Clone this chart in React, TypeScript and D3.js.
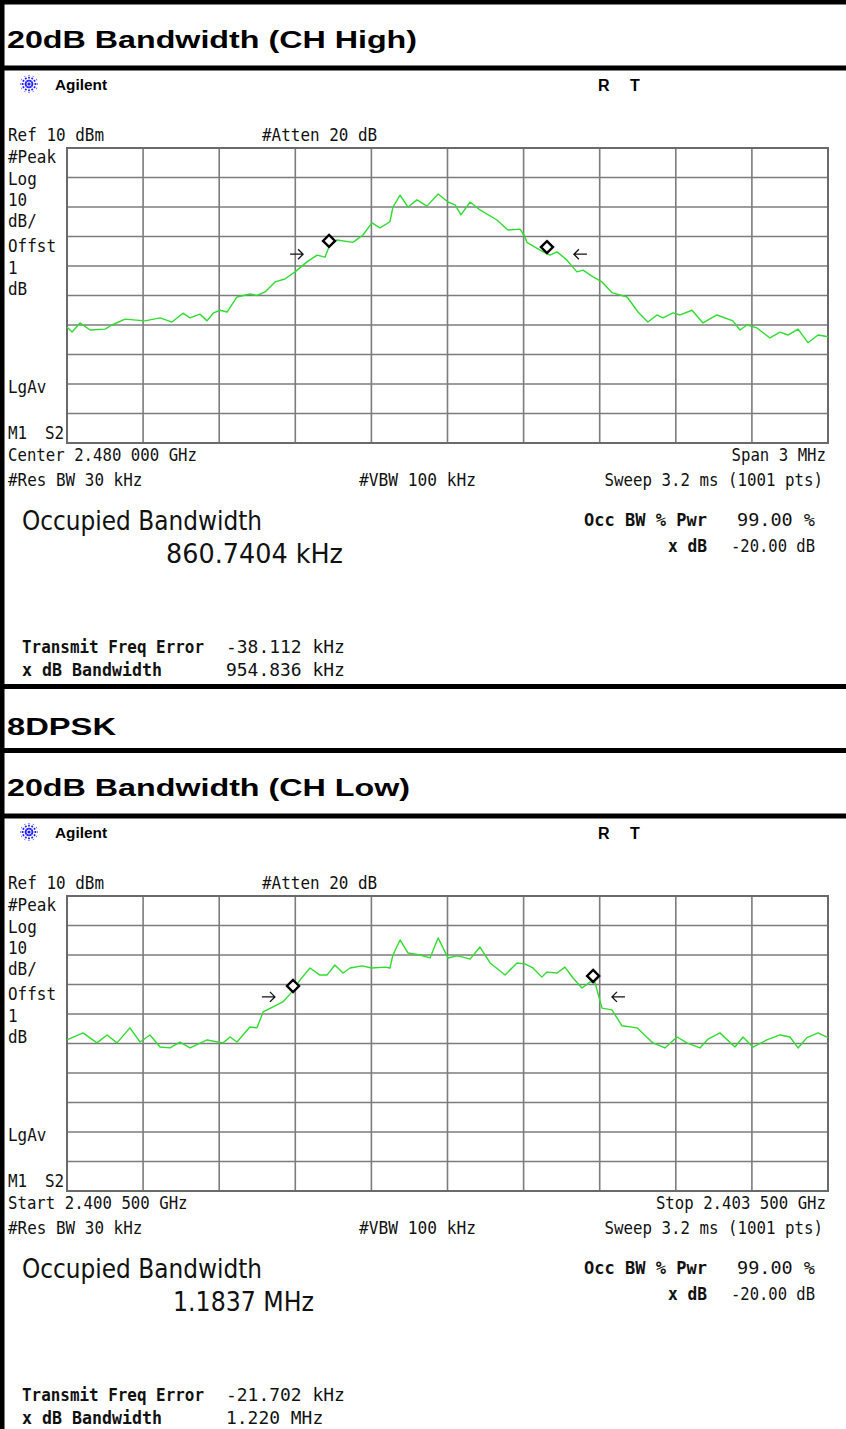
import React from 'react';
import * as d3 from 'd3';

const W = 846;
const H = 1429;
const SPAN = 3; // MHz
const DIVS = 10;

// CH High trace: offset from left edge (MHz), level (dBm)
const hiFreq = [
  0, 0.02, 0.051, 0.091, 0.15, 0.177, 0.229, 0.307, 0.367, 0.414, 0.457, 0.485, 0.524, 0.552, 0.576,
  0.603, 0.631, 0.67, 0.721, 0.749, 0.781, 0.82, 0.859, 0.899, 0.946, 0.986, 1.017, 1.033, 1.064,
  1.127, 1.167, 1.202, 1.234, 1.273, 1.285, 1.313, 1.344, 1.38, 1.419, 1.463, 1.502, 1.53, 1.553,
  1.589, 1.628, 1.695, 1.738, 1.786, 1.805, 1.813, 1.865, 1.904, 1.932, 1.971, 2.01, 2.034, 2.074,
  2.109, 2.148, 2.208, 2.251, 2.29, 2.326, 2.349, 2.389, 2.417, 2.464, 2.507, 2.562, 2.625, 2.653,
  2.681, 2.72, 2.771, 2.811, 2.842, 2.882, 2.921, 2.961, 3.0,
];
const hiLevel = [
  -50.7, -52.4, -49.3, -51.7, -51.4, -50, -48, -48.6, -47.6, -49, -46, -47.6, -46.3, -48.6, -46,
  -45, -45.6, -40.5, -39.5, -40, -38.8, -35.4, -34.4, -32, -28.6, -26.3, -27, -23.5, -21.2,
  -22, -19.5, -15.4, -17.1, -15, -10, -6, -10, -7.6, -9.7, -5.6, -8.3, -9.3, -12.7,
  -8.3, -11, -14.4, -17.8, -17.5, -20, -22, -24.6, -26.3, -25.2, -28, -32, -31.4, -33.7,
  -35.4, -39, -40.5, -45.6, -49, -46.6, -47.6, -45.9, -46.6, -45, -49.3, -46.6, -48.6, -51.7,
  -50, -51, -54.4, -52.4, -53.4, -51.4, -56, -53.4, -54,
];

// CH Low trace
const loFreq = [
  0, 0.063, 0.118, 0.158, 0.197, 0.248, 0.288, 0.327, 0.367, 0.406, 0.445, 0.485, 0.552, 0.615,
  0.643, 0.67, 0.721, 0.749, 0.773, 0.812, 0.851, 0.887, 0.918, 0.958, 0.997, 1.025, 1.056, 1.088,
  1.116, 1.163, 1.202, 1.254, 1.273, 1.285, 1.313, 1.344, 1.392, 1.431, 1.463, 1.502, 1.537, 1.561,
  1.589, 1.628, 1.668, 1.727, 1.774, 1.805, 1.837, 1.872, 1.892, 1.932, 1.963, 1.995, 2.03, 2.062,
  2.081, 2.109, 2.148, 2.188, 2.247, 2.31, 2.357, 2.405, 2.444, 2.495, 2.527, 2.574, 2.633, 2.665,
  2.704, 2.759, 2.811, 2.85, 2.882, 2.917, 2.961, 3.0,
];
const loLevel = [
  -38.8, -36.4, -39.8, -37.1, -39.8, -34.7, -39.5, -37.1, -41.2, -41.5, -39.5, -41.5, -38.8, -39.8,
  -37.8, -39.5, -34.4, -34.7, -29.3, -27.6, -25.9, -22.5, -18.5, -14.4, -16.8, -16.8, -13.4, -16.1,
  -14.4, -13.7, -14.4, -14.1, -14.4, -10, -4.9, -9.3, -10, -11, -4.2, -11, -10.3, -10.7,
  -11.4, -7.3, -12.7, -16.8, -12.7, -13, -14.4, -17.5, -15.8, -16.1, -14.1, -17.8, -21.2, -19.2,
  -19.2, -28, -28.6, -34, -34.7, -39.8, -41.5, -37.8, -39.8, -41.5, -38.5, -36.4, -41.2, -37.8,
  -41.2, -38.8, -37.1, -37.8, -41.5, -38, -36.4, -38,
];

// markers (diamonds) and -20 dB arrows
const hiMarkerFreq = [1.033, 1.892];
const hiMarkerLevel = [-21.5, -23.6];
const hiArrowFreq = [0.907, 2.022];
const hiArrowLevel = -26;
const loMarkerFreq = [0.891, 2.074];
const loMarkerLevel = [-20.5, -17.1];
const loArrowFreq = [0.796, 2.172];
const loArrowLevel = -24.2;

const yTickLevels = d3.range(10, -91, -10);

const MONO = 'DejaVu Sans Mono';

function Mono({ x, y, text, cw = 9.6, size = 17, bold = false, end = false, width }: any) {
  const len = width ?? text.length * cw;
  const x0 = end ? x - len : x;
  return (
    <text
      x={x0}
      y={y}
      fontFamily={MONO}
      fontSize={size}
      fontWeight={bold ? 'bold' : 'normal'}
      textLength={len}
      lengthAdjust="spacingAndGlyphs"
      fill="#111"
    >
      {text}
    </text>
  );
}

function Title({ y, text, width }: any) {
  return (
    <text
      x={7}
      y={y}
      fontFamily="Liberation Sans, Arial, sans-serif"
      fontWeight="bold"
      fontSize={24}
      textLength={width}
      lengthAdjust="spacingAndGlyphs"
      fill="#000"
    >
      {text}
    </text>
  );
}

function Star({ cx, cy }: any) {
  const rays = d3.range(12).map((i) => (i * Math.PI * 2) / 12);
  return (
    <g>
      {rays.map((a, i) => (
        <line
          key={i}
          x1={cx + Math.cos(a) * 2.5}
          y1={cy + Math.sin(a) * 2.5}
          x2={cx + Math.cos(a) * 9}
          y2={cy + Math.sin(a) * 9}
          stroke="#2020ff"
          strokeWidth={1.8}
          strokeDasharray="1.8,1.2"
        />
      ))}
      <circle cx={cx} cy={cy} r={1.6} fill="#2020ff" />
    </g>
  );
}

function Analyzer({ base, freq, level, mFreq, mLevel, aFreq, aLevel, info }: any) {
  const x = d3.scaleLinear().domain([0, SPAN]).range([67, 828]);
  const y = d3.scaleLinear().domain([10, -90]).range([base, base + 295]);
  const xTicks = d3.range(DIVS + 1).map((i) => (i * SPAN) / DIVS);

  const line = d3
    .line<number>()
    .x((d, i) => x(freq[i]))
    .y((d) => y(d));

  const leftLabels = ['#Peak', 'Log', '10', 'dB/', 'Offst', '1', 'dB'];
  const leftY = [15, 37, 58, 79, 104, 126, 147];

  return (
    <g>
      <Star cx={29} cy={base - 64} />
      <text
        x={55}
        y={base - 58}
        fontFamily="Liberation Sans, Arial, sans-serif"
        fontWeight="bold"
        fontSize={14}
        textLength={52}
        lengthAdjust="spacingAndGlyphs"
      >
        Agilent
      </text>
      <text x={598} y={base - 57} fontFamily="Liberation Sans, Arial, sans-serif" fontWeight="bold" fontSize={16}>
        R
      </text>
      <text x={630} y={base - 57} fontFamily="Liberation Sans, Arial, sans-serif" fontWeight="bold" fontSize={16}>
        T
      </text>

      <Mono x={8} y={base - 7} text="Ref 10 dBm" />
      <Mono x={262} y={base - 7} text="#Atten 20 dB" />
      {leftLabels.map((t, i) => (
        <Mono key={i} x={8} y={base + leftY[i]} text={t} />
      ))}
      <Mono x={8} y={base + 245} text="LgAv" />
      <Mono x={8} y={base + 291} text="M1" />
      <Mono x={45} y={base + 291} text="S2" />

      {/* grid */}
      <g stroke="#7c7c7c" strokeWidth={1.6}>
        {xTicks.map((t, i) => (
          <line key={'v' + i} x1={x(t)} x2={x(t)} y1={base} y2={base + 295} />
        ))}
        {yTickLevels.map((t, i) => (
          <line key={'h' + i} x1={67} x2={828} y1={y(t)} y2={y(t)} />
        ))}
      </g>
      <rect x={67} y={base} width={761} height={295} fill="none" stroke="#6a6a6a" strokeWidth={2} />

      <path d={line(level) || ''} fill="none" stroke="#2fdc2f" strokeWidth={1.4} strokeLinejoin="round" />

      {mFreq.map((f: number, i: number) => {
        const cx = x(f);
        const cy = y(mLevel[i]);
        return (
          <path
            key={'m' + i}
            d={`M${cx},${cy - 6}L${cx + 6},${cy}L${cx},${cy + 6}L${cx - 6},${cy}Z`}
            fill="#fff"
            stroke="#000"
            strokeWidth={2.4}
          />
        );
      })}
      {aFreq.map((f: number, i: number) => {
        const cx = x(f);
        const cy = y(aLevel);
        const dir = i === 0 ? 1 : -1;
        return (
          <path
            key={'a' + i}
            d={`M${cx - 7 * dir},${cy}L${cx + 6 * dir},${cy}M${cx + 1 * dir},${cy - 5}L${cx + 6 * dir},${cy}L${cx + 1 * dir},${cy + 5}`}
            fill="none"
            stroke="#111"
            strokeWidth={1.3}
          />
        );
      })}

      <Mono x={8} y={base + 313} text={info.left} cw={9.45} />
      <Mono x={826} y={base + 313} text={info.right} cw={9.45} end />
      <Mono x={8} y={base + 338} text="#Res BW 30 kHz" cw={9.6} />
      <Mono x={359} y={base + 338} text="#VBW 100 kHz" cw={9.75} />
      <Mono x={823} y={base + 338} text="Sweep 3.2 ms (1001 pts)" cw={9.5} end />

      <text
        x={22}
        y={base + 382}
        fontFamily="DejaVu Sans"
        fontSize={27}
        textLength={240}
        lengthAdjust="spacingAndGlyphs"
        fill="#111"
      >
        Occupied Bandwidth
      </text>
      <text
        x={info.obwX}
        y={base + 415}
        fontFamily="DejaVu Sans"
        fontSize={27}
        textLength={info.obwW}
        lengthAdjust="spacingAndGlyphs"
        fill="#111"
      >
        {info.obw}
      </text>

      <Mono x={584} y={base + 378} text="Occ BW % Pwr" width={123} bold />
      <Mono x={815} y={base + 378} text="99.00 %" width={78} end />
      <Mono x={707} y={base + 404} text="x dB" width={39} bold end />
      <Mono x={815} y={base + 404} text="-20.00 dB" width={84} end />

      <Mono x={22} y={base + 505} text="Transmit Freq Error" width={182} bold />
      <Mono x={226} y={base + 505} text={info.tfe} cw={10.8} />
      <Mono x={22} y={base + 528} text="x dB Bandwidth" width={140} bold />
      <Mono x={226} y={base + 528} text={info.xbw} cw={10.8} />
    </g>
  );
}

const hiInfo = {
  left: 'Center 2.480 000 GHz',
  right: 'Span 3 MHz',
  obw: '860.7404 kHz',
  obwX: 166,
  obwW: 177,
  tfe: '-38.112 kHz',
  xbw: '954.836 kHz',
};
const loInfo = {
  left: 'Start 2.400 500 GHz',
  right: 'Stop 2.403 500 GHz',
  obw: '1.1837 MHz',
  obwX: 173,
  obwW: 141,
  tfe: '-21.702 kHz',
  xbw: '1.220 MHz',
};

export default function App() {
  return (
    <div style={{ position: 'absolute', left: 0, top: 0, width: W, height: H, background: '#fff' }}>
      <svg width={W} height={H} style={{ display: 'block' }}>
        <rect x={0} y={0} width={W} height={H} fill="#fff" />

        <Title y={48} text="20dB Bandwidth (CH High)" width={410} />
        <Analyzer
          base={148}
          freq={hiFreq}
          level={hiLevel}
          mFreq={hiMarkerFreq}
          mLevel={hiMarkerLevel}
          aFreq={hiArrowFreq}
          aLevel={hiArrowLevel}
          info={hiInfo}
        />
        <Title y={735} text="8DPSK" width={109} />
        <Title y={796} text="20dB Bandwidth (CH Low)" width={403} />
        <Analyzer
          base={896}
          freq={loFreq}
          level={loLevel}
          mFreq={loMarkerFreq}
          mLevel={loMarkerLevel}
          aFreq={loArrowFreq}
          aLevel={loArrowLevel}
          info={loInfo}
        />

        {/* frame lines */}
        <g fill="#000">
          <rect x={0} y={0} width={W} height={4.5} />
          <rect x={0} y={65.5} width={W} height={5} />
          <rect x={0} y={684} width={W} height={5} />
          <rect x={0} y={748} width={W} height={5} />
          <rect x={0} y={813.5} width={W} height={5} />
          <rect x={0} y={0} width={4.5} height={H} />
        </g>
      </svg>
    </div>
  );
}
